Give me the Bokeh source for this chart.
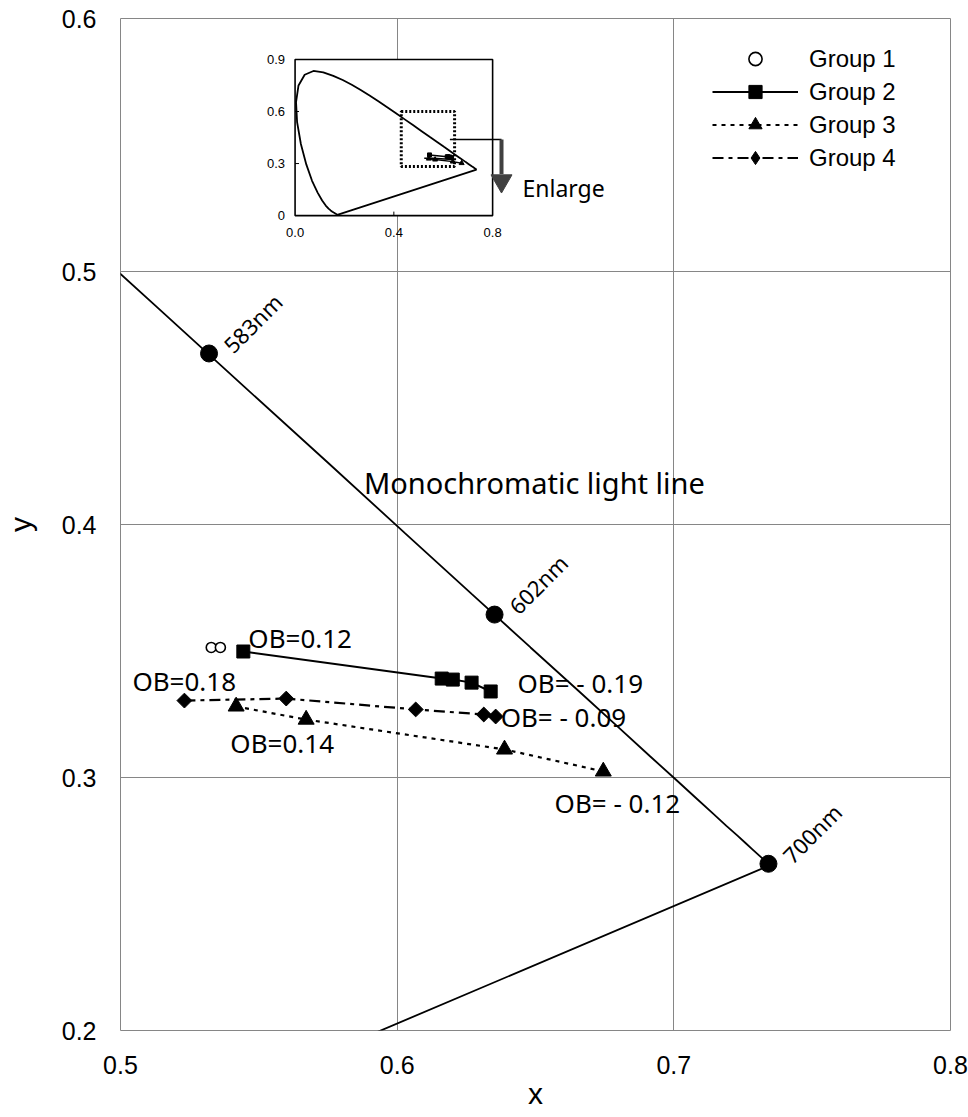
import numpy as np
from bokeh.plotting import figure
from bokeh.models import Range1d, FixedTicker, Legend, LegendItem
from bokeh.core.properties import value
from bokeh.embed import file_html
from bokeh.resources import INLINE

# ---------------- data ----------------
# CIE 1931 spectral locus, 380-700 nm (5 nm)
locus_x = [0.1741, 0.1740, 0.1738, 0.1736, 0.1733, 0.1730, 0.1726, 0.1721, 0.1714, 0.1703,
           0.1689, 0.1669, 0.1644, 0.1611, 0.1566, 0.1510, 0.1440, 0.1355, 0.1241, 0.1096,
           0.0913, 0.0687, 0.0454, 0.0235, 0.0082, 0.0039, 0.0139, 0.0389, 0.0743, 0.1142,
           0.1547, 0.1929, 0.2296, 0.2658, 0.3016, 0.3373, 0.3731, 0.4087, 0.4441, 0.4788,
           0.5125, 0.5448, 0.5752, 0.6029, 0.6270, 0.6482, 0.6658, 0.6801, 0.6915, 0.7006,
           0.7079, 0.7140, 0.7190, 0.7230, 0.7260, 0.7283, 0.7300, 0.7311, 0.7320, 0.7327,
           0.7334, 0.7340, 0.7344, 0.7346, 0.7347]
locus_y = [0.0050, 0.0050, 0.0049, 0.0049, 0.0048, 0.0048, 0.0048, 0.0048, 0.0051, 0.0058,
           0.0069, 0.0086, 0.0109, 0.0138, 0.0177, 0.0227, 0.0297, 0.0399, 0.0578, 0.0868,
           0.1327, 0.2007, 0.2950, 0.4127, 0.5384, 0.6548, 0.7502, 0.8120, 0.8338, 0.8262,
           0.8059, 0.7816, 0.7543, 0.7243, 0.6923, 0.6589, 0.6245, 0.5896, 0.5547, 0.5202,
           0.4866, 0.4544, 0.4242, 0.3965, 0.3725, 0.3514, 0.3340, 0.3197, 0.3083, 0.2993,
           0.2920, 0.2859, 0.2809, 0.2770, 0.2740, 0.2717, 0.2700, 0.2689, 0.2680, 0.2673,
           0.2666, 0.2660, 0.2656, 0.2654, 0.2653]

mark_labels = ["583nm", "602nm", "700nm"]
mark_x = [0.5320, 0.6352, 0.7342]
mark_y = [0.4676, 0.3644, 0.2659]

g1_x = [0.5328, 0.5361]
g1_y = [0.3514, 0.3514]
g2_x = [0.5444, 0.6161, 0.6201, 0.6269, 0.6338]
g2_y = [0.3498, 0.3391, 0.3387, 0.3375, 0.3340]
g3_x = [0.5418, 0.5671, 0.6388, 0.6745]
g3_y = [0.3281, 0.3229, 0.3111, 0.3024]
g4_x = [0.5231, 0.5599, 0.6067, 0.6313, 0.6356]
g4_y = [0.3304, 0.3312, 0.3269, 0.3249, 0.3241]

ob_labels = ["OB=0.12", "OB=0.18", "OB=0.14", "OB= - 0.19", "OB= - 0.09", "OB= - 0.12"]
ob_x = [0.5462, 0.5043, 0.5397, 0.6435, 0.6374, 0.6569]
ob_y = [0.3553, 0.3383, 0.3138, 0.3372, 0.3241, 0.2901]

x_ticks = [0.5, 0.6, 0.7, 0.8]
x_tick_labels = ["0.5", "0.6", "0.7", "0.8"]
y_ticks = [0.2, 0.3, 0.4, 0.5, 0.6]
y_tick_labels = ["0.2", "0.3", "0.4", "0.5", "0.6"]

inset_x_ticks = [0.0, 0.4, 0.8]
inset_x_labels = ["0.0", "0.4", "0.8"]
inset_y_ticks = [0.0, 0.3, 0.6, 0.9]
inset_y_labels = ["0", "0.3", "0.6", "0.9"]
# enlarged region marked in the inset
zoom_box = dict(left=0.43, right=0.646, bottom=0.283, top=0.60)

# ---------------- figure ----------------
FONT_T = "Noto Sans"
FONT_A = "Liberation Sans"

p = figure(width=968, height=1117, output_backend="svg", toolbar_location=None,
           x_range=Range1d(0.5, 0.8), y_range=Range1d(0.2, 0.6),
           min_border_left=118, min_border_right=18, min_border_top=18, min_border_bottom=87)
p.background_fill_color = "white"
p.border_fill_color = "white"
p.outline_line_color = "#868686"
p.outline_line_width = 1

p.xaxis.ticker = FixedTicker(ticks=x_ticks)
p.yaxis.ticker = FixedTicker(ticks=y_ticks)
p.xaxis.major_label_overrides = {t: s for t, s in zip(x_ticks, x_tick_labels)}
p.yaxis.major_label_overrides = {t: s for t, s in zip(y_ticks, y_tick_labels)}
for ax in (p.xaxis, p.yaxis):
    ax.axis_line_color = None
    ax.major_tick_line_color = None
    ax.minor_tick_line_color = None
    ax.major_tick_out = 0
    ax.major_tick_in = 0
    ax.major_label_text_font = FONT_A
    ax.major_label_text_font_size = "25px"
    ax.major_label_text_color = "black"
    ax.axis_label_text_font = FONT_A
    ax.axis_label_text_font_size = "30px"
    ax.axis_label_text_font_style = "normal"
    ax.axis_label_text_color = "black"
p.xaxis.axis_label = "x"
p.yaxis.axis_label = "y"
p.xaxis.major_label_standoff = 25
p.yaxis.major_label_standoff = 24
p.xaxis.axis_label_standoff = 0
p.yaxis.axis_label_standoff = 22
p.grid.grid_line_color = "#868686"
p.grid.grid_line_width = 1
p.xgrid.ticker = FixedTicker(ticks=x_ticks)
p.ygrid.ticker = FixedTicker(ticks=y_ticks)

# spectral locus + purple line
p.line(locus_x + [locus_x[0]], locus_y + [locus_y[0]], line_color="black", line_width=1.8)
p.scatter(mark_x, mark_y, marker="circle", size=17, color="black")
p.text(mark_x, mark_y, text=mark_labels, angle=np.pi / 4, x_offset=18, y_offset=-5,
       text_align="left", text_baseline="middle", text_font=value(FONT_T),
       text_font_size="22px", text_color="black")

p.text([0.588], [0.4166], text=["Monochromatic light line"], text_align="left",
       text_baseline="middle", text_font=value(FONT_T), text_font_size="29px", text_color="black")

# groups
r1 = p.scatter(g1_x, g1_y, marker="circle", size=10, fill_color="white",
               line_color="black", line_width=1.6)
l2 = p.line(g2_x, g2_y, line_color="black", line_width=2)
s2 = p.scatter(g2_x, g2_y, marker="square", size=13, color="black")
l3 = p.line(g3_x, g3_y, line_color="black", line_width=2.2, line_dash="4 5")
s3 = p.scatter(g3_x, g3_y, marker="triangle", size=16, color="black")
l4 = p.line(g4_x, g4_y, line_color="black", line_width=2.2, line_dash="11 5 4 5")
# legend-only diamond (legend glyphs ignore marker angle); drawn hidden under the first point
s4_leg = p.scatter(g4_x[:1], g4_y[:1], marker="diamond", size=12, color="black")
s4 = p.scatter(g4_x, g4_y, marker="square", angle=np.pi / 4, size=10.5, color="black")

p.text(ob_x, ob_y, text=ob_labels, text_align="left", text_baseline="middle",
       text_font=value(FONT_T), text_font_size="26px", text_color="black")

# ---------------- inset ----------------
ins = p.subplot(x_source=Range1d(0, 0.8), y_source=Range1d(0, 0.9),
                x_target=Range1d(0.5631, 0.6345), y_target=Range1d(0.5221, 0.5838))
ins.quad(left=[0], right=[0.8], bottom=[0], top=[0.9], fill_color="white",
         line_color="black", line_width=1.6)
ins.line(locus_x + [locus_x[0]], locus_y + [locus_y[0]], line_color="black", line_width=1.8)
ins.quad(left=[zoom_box["left"]], right=[zoom_box["right"]], bottom=[zoom_box["bottom"]],
         top=[zoom_box["top"]], fill_alpha=0, line_color="black", line_width=3, line_dash="2 2")
for gx, gy in ((g2_x, g2_y), (g3_x, g3_y), (g4_x, g4_y)):
    ins.line(gx, gy, line_color="black", line_width=1.5)
ins.scatter(g3_x, g3_y, marker="triangle", size=5, color="black")
ins.scatter(g2_x, g2_y, marker="square", size=4, color="black")
# inner ticks
ins.segment(x0=[0] * 2, y0=inset_y_ticks[1:3], x1=[0.016] * 2, y1=inset_y_ticks[1:3],
            line_color="black", line_width=1)
ins.segment(x0=[0.4], y0=[0], x1=[0.4], y1=[0.023], line_color="black", line_width=1)
ins.text([0] * len(inset_y_ticks), inset_y_ticks, text=inset_y_labels, text_align="right",
         text_baseline="middle", x_offset=-10, text_font=value(FONT_A), text_font_size="13px",
         text_color="black")
ins.text(inset_x_ticks, [0] * len(inset_x_ticks), text=inset_x_labels, text_align="center",
         text_baseline="top", y_offset=12, text_font=value(FONT_A), text_font_size="13px",
         text_color="black")
# enlarge arrow
ins.line([0.627, 0.836], [0.4385, 0.4385], line_color="black", line_width=1.5)
ins.line([0.836, 0.836], [0.4385, 0.24], line_color="#404040", line_width=4)
ins.scatter([0.836], [0.2], marker="inverted_triangle", size=21, color="#404040")
p.text([0.6453], [0.5332], text=["Enlarge"], text_align="left", text_baseline="middle",
       text_font=value(FONT_T), text_font_size="23px", text_color="black")

# ---------------- legend ----------------
legend = Legend(items=[
    LegendItem(label="Group 1", renderers=[r1]),
    LegendItem(label="Group 2", renderers=[l2, s2]),
    LegendItem(label="Group 3", renderers=[l3, s3]),
    LegendItem(label="Group 4", renderers=[l4, s4_leg]),
], location=(592, 856))
legend.glyph_width = 86
legend.glyph_height = 33
legend.spacing = 0
legend.padding = 4
legend.margin = 0
legend.label_standoff = 11
legend.label_text_font = FONT_A
legend.label_text_font_size = "24px"
legend.label_text_color = "black"
legend.border_line_color = None
legend.background_fill_alpha = 0
p.add_layout(legend, "center")

open("out.html", "w").write(file_html(p, INLINE))
